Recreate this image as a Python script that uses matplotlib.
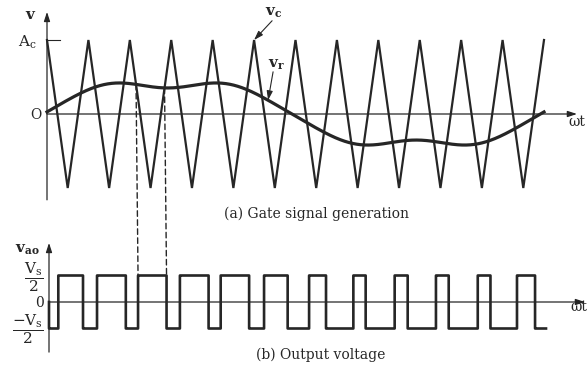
import numpy as np
import matplotlib.pyplot as plt
from matplotlib.patches import ConnectionPatch

plt.rcParams['font.family'] = ['DejaVu Serif']
plt.rcParams['mathtext.fontset'] = 'dejavuserif'

# carrier v_c: triangle between +Ac and -Ac, 12 periods per reference cycle
Ac = 1.0
carrier_periods = 12

# reference v_r, harmonic amplitudes in units of Ac
harmonic_order = [1, 3, 5]
harmonic_amp = [0.46, 0.088, -0.020]
ref_phase = 0.045

# output level in units of Vs/2
vs_half = 1.0

# which output pulse gets its edges projected from the comparison
marked_pulse = 2

ink = '#262626'

t = np.linspace(0, 2 * np.pi, 40001)
u = (t / (2 * np.pi / carrier_periods)) % 1.0
vc = Ac * (2 * np.abs(2 * u - 1) - 1)


def vref(x):
    x = np.asarray(x, dtype=float)
    return sum(a * np.sin(n * (x + ref_phase)) for n, a in zip(harmonic_order, harmonic_amp))


vr = vref(t)
vao = np.where(vr > vc, vs_half, -vs_half)

edges = np.nonzero(np.diff(vao))[0]
rising = t[edges[np.diff(vao)[edges] > 0]]
falling = t[edges[np.diff(vao)[edges] < 0]]
t_on = rising[marked_pulse]
t_off = falling[falling > t_on][0]

# carrier drawn through its vertices
tv = np.arange(2 * carrier_periods + 1) * np.pi / carrier_periods
vv = Ac * (-1.0) ** np.arange(2 * carrier_periods + 1)

fig = plt.figure(figsize=(5.87, 3.73), dpi=100)
fig.patch.set_facecolor('white')

px = 2 * np.pi / 497.0
top = fig.add_axes([0, 0, 1, 1])
top.set_xlim(-47 * px, 540 * px)
top.set_ylim(-(373 - 114) / 74.0, 114 / 74.0)
top.axis('off')

bot = fig.add_axes([0, 0, 1, 1])
bot.set_xlim(-49 * px, 538 * px)
bot.set_ylim(-(373 - 302) / 26.5, 302 / 26.5)
bot.axis('off')
bot.patch.set_alpha(0)

arrow = dict(arrowstyle='-|>,head_length=0.55,head_width=0.18', lw=0.9,
             color=ink, shrinkA=0, shrinkB=0)

# --- (a) gate signal generation ---
top.annotate('', xy=(0, 1.38), xytext=(0, -1.16), arrowprops=arrow)
top.annotate('', xy=(530 * px, 0), xytext=(0, 0), arrowprops=arrow)
top.plot([0, 13 * px], [Ac, Ac], color=ink, lw=0.8)
top.plot(tv, vv, color=ink, lw=1.6, solid_joinstyle='miter')
top.plot(t, vr, color=ink, lw=2.3)

top.text(-17 * px, 1.34, 'v', fontsize=11, ha='center', va='center', color=ink, fontweight='bold')
top.text(-20 * px, 0.97, r'$\mathrm{A_c}$', fontsize=11, ha='center', va='center', color=ink)
top.text(-6 * px, -0.02, 'O', fontsize=10, ha='right', va='center', color=ink)
top.text(521 * px, -0.11, 'ωt', fontsize=10, ha='left', va='center', color=ink)

k_peak = 5
t_peak = tv[2 * k_peak]
top.text(t_peak + 20 * px, 1.37, r'$\mathbf{v_c}$', fontsize=11, ha='center', va='center', color=ink)
top.annotate('', xy=(t_peak, Ac), xytext=(t_peak + 18 * px, 1.26),
             arrowprops=dict(arrow, lw=0.8))
t_lab = t_peak + 14 * px
top.text(t_lab + 8 * px, 0.66, r'$\mathbf{v_r}$', fontsize=11, ha='center', va='center', color=ink)
top.annotate('', xy=(t_lab, float(vref(t_lab))), xytext=(t_lab + 5 * px, 0.57),
             arrowprops=dict(arrow, lw=0.8))

fig.text(317 / 587, 1 - 214 / 373, '(a) Gate signal generation', fontsize=10,
         ha='center', va='center', color=ink)

# --- (b) output voltage ---
bot.annotate('', xy=(0, 2.23), xytext=(0, -1.89), arrowprops=arrow)
bot.annotate('', xy=(536 * px, 0), xytext=(0, 0), arrowprops=arrow)
bot.plot(np.r_[0, t], np.r_[0, vao], color=ink, lw=1.9, drawstyle='steps-post')

bot.text(-22 * px, 1.96, r'$\mathbf{v_{ao}}$', fontsize=11, ha='center', va='center', color=ink)
bot.text(-15 * px, 0.92, r'$\dfrac{\mathrm{V_s}}{2}$', fontsize=11, ha='center', va='center', color=ink)
bot.text(-10 * px, -0.02, '0', fontsize=10, ha='center', va='center', color=ink)
bot.text(-21 * px, -1.02, r'$\dfrac{-\mathrm{V_s}}{2}$', fontsize=11, ha='center', va='center', color=ink)
bot.text(521 * px, -0.19, 'ωt', fontsize=10, ha='left', va='center', color=ink)

fig.text(321 / 587, 1 - 355 / 373, '(b) Output voltage', fontsize=10,
         ha='center', va='center', color=ink)

# project the comparison crossings onto the output edges
for te in (t_on, t_off):
    con = ConnectionPatch(xyA=(te, float(vref(te))), coordsA=top.transData,
                          xyB=(te, vs_half), coordsB=bot.transData,
                          color=ink, lw=1.0, linestyle=(0, (4, 2.5)))
    fig.add_artist(con)

fig.savefig('out.png', dpi=100, facecolor='white')
